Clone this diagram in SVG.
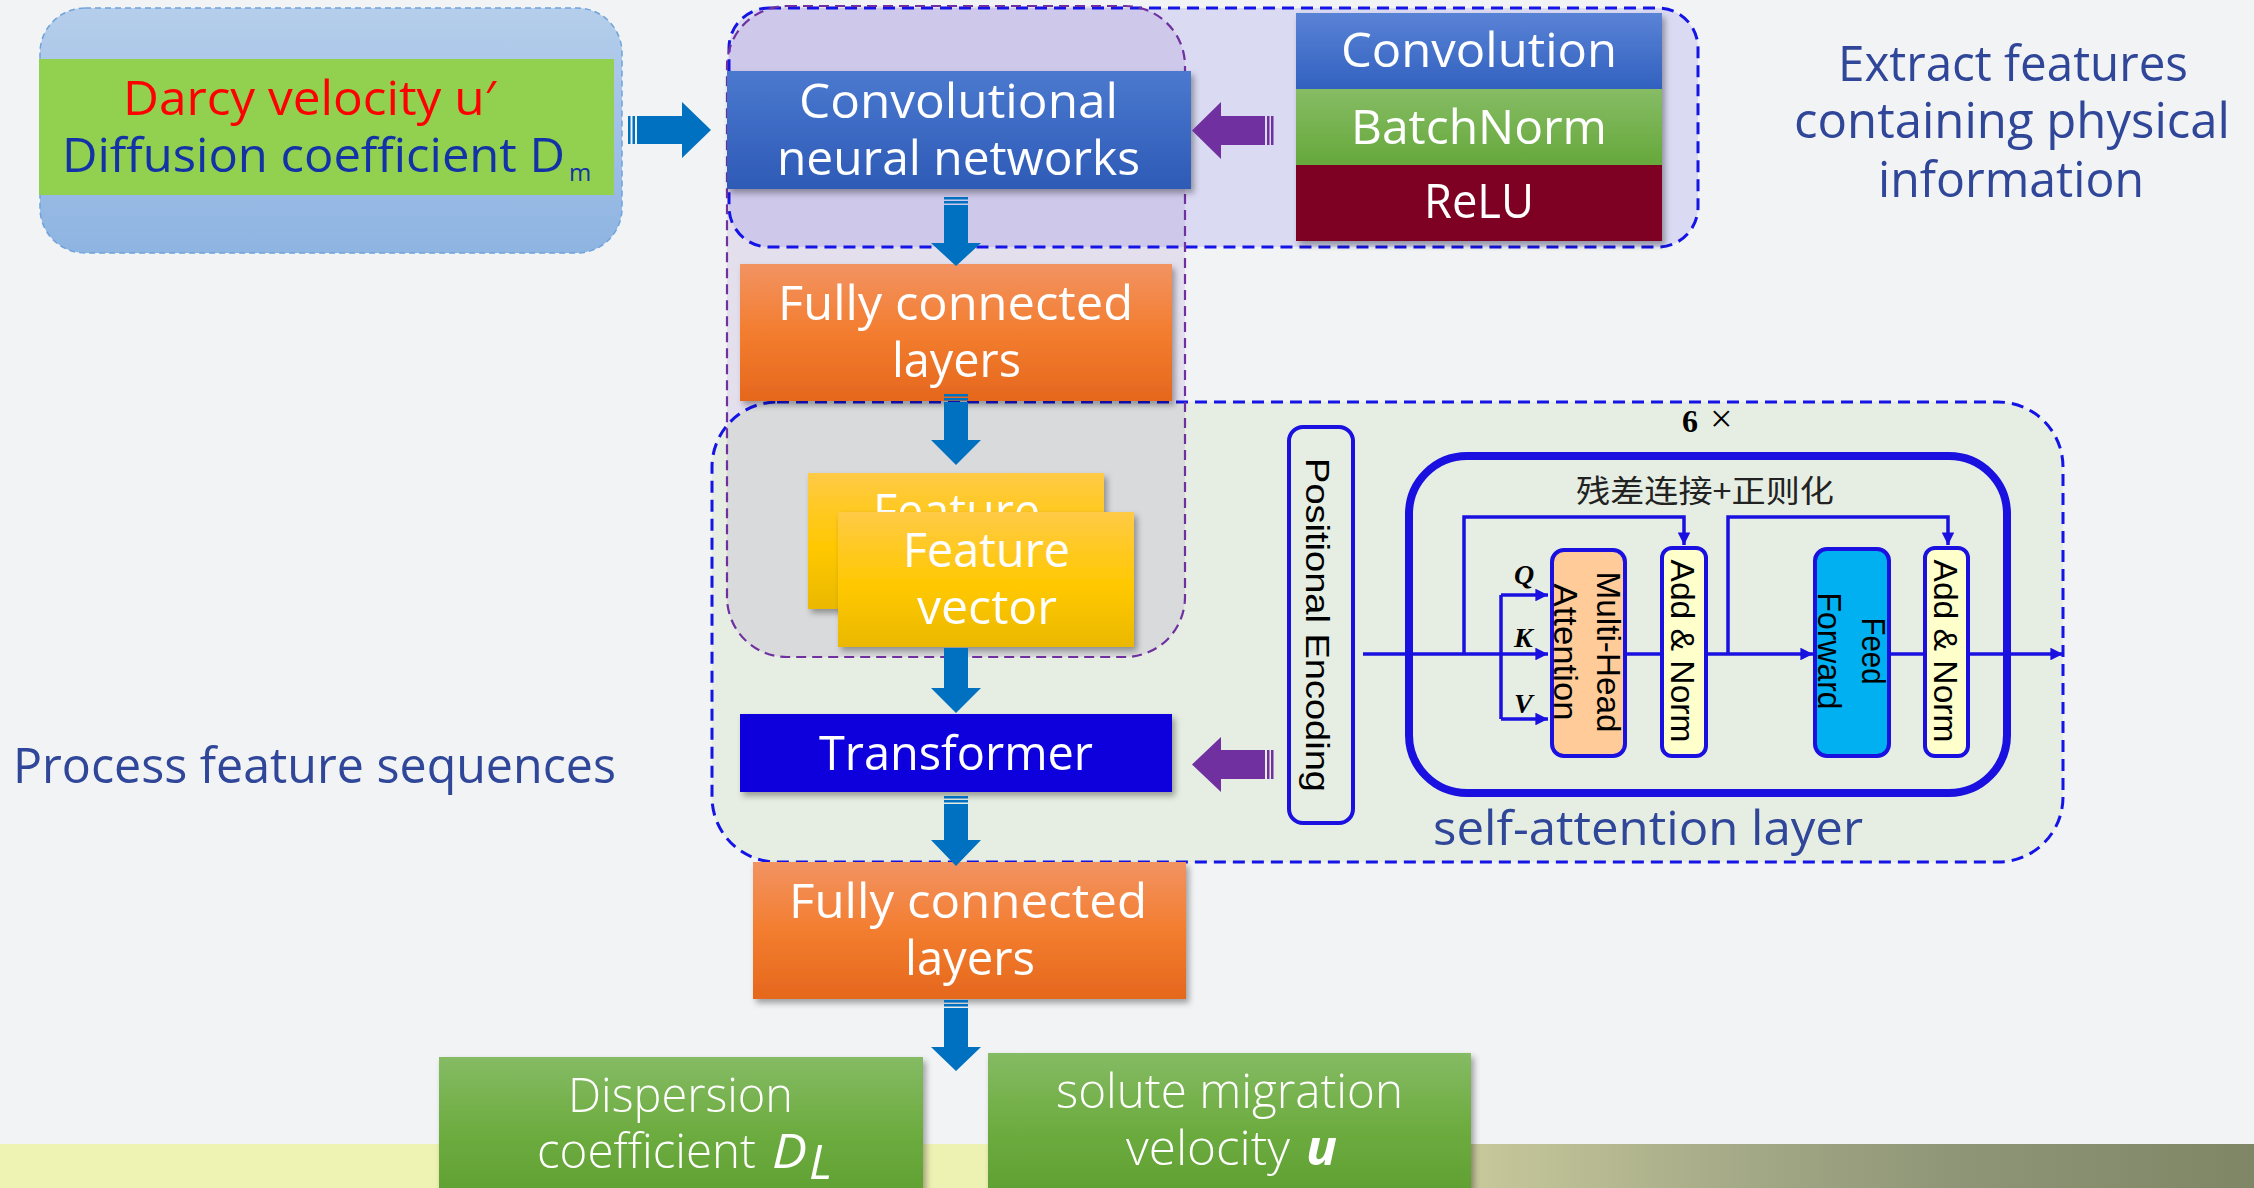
<svg xmlns="http://www.w3.org/2000/svg" width="2254" height="1188" viewBox="0 0 2254 1188">
  <defs>
    <linearGradient id="band" x1="0" y1="0" x2="2254" y2="0" gradientUnits="userSpaceOnUse">
      <stop offset="0" stop-color="#EEF2B3"/>
      <stop offset="0.577" stop-color="#EDF1B2"/>
      <stop offset="0.657" stop-color="#C6C79A"/>
      <stop offset="0.776" stop-color="#A3A886"/>
      <stop offset="0.865" stop-color="#8F9677"/>
      <stop offset="1" stop-color="#7F8666"/>
    </linearGradient>
    <linearGradient id="inBox" x1="0" y1="0" x2="0" y2="1">
      <stop offset="0" stop-color="#B5CEEB"/>
      <stop offset="1" stop-color="#8EB4E2"/>
    </linearGradient>
    <linearGradient id="gCnn" x1="0" y1="0" x2="0" y2="1">
      <stop offset="0" stop-color="#4B79CF"/>
      <stop offset="1" stop-color="#2D5AB6"/>
    </linearGradient>
    <linearGradient id="gConv" x1="0" y1="0" x2="0" y2="1">
      <stop offset="0" stop-color="#5A83D6"/>
      <stop offset="1" stop-color="#3161BF"/>
    </linearGradient>
    <linearGradient id="gBn" x1="0" y1="0" x2="0" y2="1">
      <stop offset="0" stop-color="#86BC65"/>
      <stop offset="1" stop-color="#66A83B"/>
    </linearGradient>
    <linearGradient id="gFc" x1="0" y1="0" x2="0" y2="1">
      <stop offset="0" stop-color="#F29362"/>
      <stop offset="0.5" stop-color="#F37D2F"/>
      <stop offset="1" stop-color="#E5671D"/>
    </linearGradient>
    <linearGradient id="gFeat" x1="0" y1="0" x2="0" y2="1">
      <stop offset="0" stop-color="#FFCA45"/>
      <stop offset="0.55" stop-color="#FFC800"/>
      <stop offset="1" stop-color="#EAB800"/>
    </linearGradient>
    <linearGradient id="gOut" x1="0" y1="0" x2="0" y2="1">
      <stop offset="0" stop-color="#85BB64"/>
      <stop offset="0.5" stop-color="#6DAC40"/>
      <stop offset="1" stop-color="#5E9E30"/>
    </linearGradient>
    <filter id="shadow" x="-5%" y="-10%" width="115%" height="140%">
      <feDropShadow dx="3" dy="4" stdDeviation="3" flood-color="#000" flood-opacity="0.35"/>
    </filter>
    <marker id="tip" viewBox="0 0 10 10" refX="10" refY="5" markerWidth="4" markerHeight="3.6" orient="auto" markerUnits="strokeWidth">
      <path d="M0,0 L10,5 L0,10 z" fill="#1A10E0"/>
    </marker>
  </defs>
  <style>
    .sans { font-family: "Open Sans", "Noto Sans", "Liberation Sans", sans-serif; }
    .lbl { fill: #2F4699; font-size: 50px; }
    .wt { fill: #FFFFFF; font-size: 48px; }
    .light { font-weight: 300; }
    .rot { font-family: "Liberation Sans", Arial, sans-serif; fill: #000; font-size: 33px; text-anchor: middle; }
    .dashBlue { fill: none; stroke: #1414E6; stroke-width: 3; stroke-dasharray: 12 7; }
    .line { fill: none; stroke: #1A10E0; stroke-width: 3.5; }
    .blk { stroke: #1A10E0; stroke-width: 4; }
    .barrow { fill: #0070C0; }
    .parrow { fill: #7030A0; }
    .serif { font-family: "Liberation Serif", "Times New Roman", serif; }
  </style>

  <!-- page background and footer band -->
  <rect x="0" y="0" width="2254" height="1188" fill="#F2F3F5"/>
  <rect x="0" y="1144" width="2254" height="44" fill="url(#band)"/>

  <!-- grouping regions -->
  <g id="regions">
    <rect id="cnn-region" x="729" y="8" width="969" height="239" rx="40" fill="#DADAF3"/>
    <rect id="transformer-region" x="712" y="402" width="1351" height="460" rx="65" fill="#E6EEE3"/>
    <rect id="feature-region" x="727" y="6" width="458" height="651" rx="60" fill="#7030A0" fill-opacity="0.1"/>
    <rect x="729" y="8" width="969" height="239" rx="40" class="dashBlue"/>
    <rect x="712" y="402" width="1351" height="460" rx="65" class="dashBlue"/>
    <rect x="727" y="6" width="458" height="651" rx="60" fill="none" stroke="#7030A0" stroke-width="2.2" stroke-dasharray="10 6"/>
  </g>

  <!-- input parameters -->
  <g id="input">
    <rect x="40" y="8" width="582" height="245" rx="45" fill="url(#inBox)" stroke="#6FA3DA" stroke-width="1.5" stroke-dasharray="6 4"/>
    <rect x="39" y="59" width="575" height="136" fill="#92D050"/>
    <text class="sans" x="123" y="115" font-size="48" fill="#FF0000" textLength="373" lengthAdjust="spacingAndGlyphs">Darcy velocity u′</text>
    <text class="sans" x="62" y="172" font-size="48" fill="#1232A6" textLength="503" lengthAdjust="spacingAndGlyphs">Diffusion coefficient D</text>
    <text class="sans" x="569" y="181" font-size="24" fill="#1232A6">m</text>
  </g>

  <!-- CNN feature extractor -->
  <g id="cnn" filter="url(#shadow)">
    <rect x="727" y="71" width="464" height="118" fill="url(#gCnn)"/>
    <text class="sans wt" x="799" y="118" textLength="319" lengthAdjust="spacingAndGlyphs">Convolutional</text>
    <text class="sans wt" x="777" y="175" textLength="363" lengthAdjust="spacingAndGlyphs">neural networks</text>
  </g>

  <g id="conv-stack" filter="url(#shadow)">
    <rect x="1296" y="13" width="366" height="76" fill="url(#gConv)"/>
    <rect x="1296" y="89" width="366" height="76" fill="url(#gBn)"/>
    <rect x="1296" y="165" width="366" height="76" fill="#7E0021"/>
    <text class="sans wt" x="1341" y="67" textLength="276" lengthAdjust="spacingAndGlyphs">Convolution</text>
    <text class="sans wt" x="1351" y="144" textLength="256" lengthAdjust="spacingAndGlyphs">BatchNorm</text>
    <text class="sans wt" x="1424" y="218" textLength="110" lengthAdjust="spacingAndGlyphs">ReLU</text>
  </g>

  <!-- fully connected layers (first) -->
  <g id="fc1" filter="url(#shadow)">
    <rect x="740" y="264" width="432" height="137" fill="url(#gFc)"/>
    <text class="sans wt" x="778" y="320" textLength="355" lengthAdjust="spacingAndGlyphs">Fully connected</text>
    <text class="sans wt" x="892" y="377" textLength="129" lengthAdjust="spacingAndGlyphs">layers</text>
  </g>

  <!-- stacked feature vectors -->
  <g id="feature-vector">
    <g filter="url(#shadow)">
      <rect x="808" y="473" width="296" height="136" fill="url(#gFeat)"/>
      <text class="sans wt" x="873" y="528" font-size="50" textLength="167" lengthAdjust="spacingAndGlyphs">Feature</text>
    </g>
    <g filter="url(#shadow)">
      <rect x="838" y="512" width="296" height="135" fill="url(#gFeat)"/>
    </g>
    <text class="sans wt" x="903" y="567" font-size="50" textLength="167" lengthAdjust="spacingAndGlyphs">Feature</text>
    <text class="sans wt" x="917" y="624" font-size="50" textLength="140" lengthAdjust="spacingAndGlyphs">vector</text>
  </g>

  <!-- transformer -->
  <g id="transformer" filter="url(#shadow)">
    <rect x="740" y="714" width="432" height="78" fill="#1005DC"/>
    <text class="sans wt" x="819" y="770" font-size="50" textLength="274" lengthAdjust="spacingAndGlyphs">Transformer</text>
  </g>

  <!-- fully connected layers (second) -->
  <g id="fc2" filter="url(#shadow)">
    <rect x="753" y="862" width="433" height="137" fill="url(#gFc)"/>
    <text class="sans wt" x="789" y="918" textLength="358" lengthAdjust="spacingAndGlyphs">Fully connected</text>
    <text class="sans wt" x="905" y="975" textLength="130" lengthAdjust="spacingAndGlyphs">layers</text>
  </g>

  <!-- outputs -->
  <g id="out-dispersion" filter="url(#shadow)">
    <rect x="439" y="1057" width="484" height="150" fill="url(#gOut)"/>
    <text class="sans wt light" x="568" y="1112" textLength="225" lengthAdjust="spacingAndGlyphs">Dispersion</text>
    <text class="sans wt light" x="537" y="1168" textLength="219" lengthAdjust="spacingAndGlyphs">coefficient</text>
    <text class="sans wt" x="772" y="1168" font-style="italic" textLength="35" lengthAdjust="spacingAndGlyphs">D</text>
    <text class="sans wt" x="809" y="1179" font-size="26" font-style="italic">L</text>
  </g>
  <g id="out-velocity" filter="url(#shadow)">
    <rect x="988" y="1053" width="483" height="150" fill="url(#gOut)"/>
    <text class="sans wt light" x="1056" y="1108" textLength="347" lengthAdjust="spacingAndGlyphs">solute migration</text>
    <text class="sans wt light" x="1126" y="1165" textLength="164" lengthAdjust="spacingAndGlyphs">velocity</text>
    <text class="sans wt" x="1306" y="1165" font-style="italic" font-weight="bold" textLength="31" lengthAdjust="spacingAndGlyphs">u</text>
  </g>

  <!-- positional encoding -->
  <g id="pos-enc">
    <rect x="1289" y="427" width="64" height="396" rx="14" fill="none" class="blk" stroke-width="8"/>
    <text class="rot" transform="translate(1306,625) rotate(90)" font-size="38" textLength="334" lengthAdjust="spacingAndGlyphs">Positional Encoding</text>
  </g>

  <!-- encoder block repeated 6 times -->
  <g id="encoder-block">
    <rect x="1409" y="456" width="598" height="337" rx="58" fill="none" stroke="#1A10E0" stroke-width="8"/>
    <text x="1682" y="432" class="serif" font-weight="bold" font-size="32" fill="#000">6</text>
    <text x="1710" y="432" class="serif" font-size="40" fill="#000">×</text>
    <text x="1576" y="502" font-family="'Noto Sans CJK SC', 'Noto Sans CJK JP', sans-serif" font-size="31" fill="#222" textLength="258" lengthAdjust="spacingAndGlyphs">残差连接+正则化</text>
  </g>

  <g id="multi-head-attention">
    <rect x="1552" y="550" width="73" height="206" rx="12" fill="#FFCC99" class="blk"/>
    <text class="rot" transform="translate(1597,652) rotate(90)" textLength="161" lengthAdjust="spacingAndGlyphs">Multi-Head</text>
    <text class="rot" transform="translate(1554,652) rotate(90)" textLength="137" lengthAdjust="spacingAndGlyphs">Attention</text>
  </g>
  <g id="add-norm-1">
    <rect x="1662" y="548" width="44" height="208" rx="10" fill="#FFFFCC" class="blk"/>
    <text class="rot" transform="translate(1671,651) rotate(90)" textLength="183" lengthAdjust="spacingAndGlyphs">Add &amp; Norm</text>
  </g>
  <g id="feed-forward">
    <rect x="1815" y="549" width="74" height="207" rx="12" fill="#00B0F0" class="blk"/>
    <text class="rot" transform="translate(1862,651) rotate(90)" textLength="67" lengthAdjust="spacingAndGlyphs">Feed</text>
    <text class="rot" transform="translate(1818,651) rotate(90)" textLength="117" lengthAdjust="spacingAndGlyphs">Forward</text>
  </g>
  <g id="add-norm-2">
    <rect x="1925" y="548" width="43" height="208" rx="10" fill="#FFFFCC" class="blk"/>
    <text class="rot" transform="translate(1934,651) rotate(90)" textLength="183" lengthAdjust="spacingAndGlyphs">Add &amp; Norm</text>
  </g>

  <!-- connectors -->
  <g id="connectors">
    <!-- block arrows along the main pipeline -->
    <g class="barrow">
      <rect x="628" y="116" width="2.5" height="28"/>
      <rect x="632.5" y="116" width="2.5" height="28"/>
      <path d="M637,116 H682 V102 L711,130 L682,158 V144 H637 Z"/>

      <rect x="944" y="197" width="24" height="2.5"/>
      <rect x="944" y="201" width="24" height="2.5"/>
      <path d="M944,205 H968 V243 H981 L956,266 L931,243 H944 Z"/>

      <rect x="944" y="394" width="24" height="2.5"/>
      <rect x="944" y="398" width="24" height="2.5"/>
      <path d="M944,402 H968 V440 H981 L956,465 L931,440 H944 Z"/>

      <path d="M944,648 H968 V688 H981 L956,713 L931,688 H944 Z"/>

      <rect x="944" y="796" width="24" height="2.5"/>
      <rect x="944" y="800" width="24" height="2.5"/>
      <path d="M944,804 H968 V840 H981 L956,866 L931,840 H944 Z"/>

      <rect x="944" y="1000" width="24" height="2.5"/>
      <rect x="944" y="1004" width="24" height="2.5"/>
      <path d="M944,1008 H968 V1047 H981 L956,1071 L931,1047 H944 Z"/>
    </g>
    <g class="parrow">
      <path d="M1192,130.5 L1221,102 V116 H1265 V145 H1221 V159 Z"/>
      <rect x="1267" y="116" width="2.5" height="29"/>
      <rect x="1271" y="116" width="2.5" height="29"/>
      <path d="M1192,764.5 L1221,737 V750 H1265 V779 H1221 V792 Z"/>
      <rect x="1267" y="750" width="2.5" height="29"/>
      <rect x="1271" y="750" width="2.5" height="29"/>
    </g>

    <!-- encoder data flow -->
    <path class="line" d="M1363,654 H1548" marker-end="url(#tip)"/>
    <path class="line" d="M1501,595 V719"/>
    <path class="line" d="M1501,595 H1548" marker-end="url(#tip)"/>
    <path class="line" d="M1501,719 H1548" marker-end="url(#tip)"/>
    <path class="line" d="M1627,654 H1662"/>
    <path class="line" d="M1706,654 H1813" marker-end="url(#tip)"/>
    <path class="line" d="M1889,654 H1925"/>
    <path class="line" d="M1968,654 H2063" marker-end="url(#tip)"/>
    <path class="line" d="M1464,654 V517 H1684 V545" marker-end="url(#tip)"/>
    <path class="line" d="M1728,654 V517 H1948 V545" marker-end="url(#tip)"/>
  </g>

  <!-- Q / K / V labels -->
  <g id="qkv" class="serif" font-weight="bold" font-style="italic" font-size="28" fill="#000">
    <text x="1514" y="584">Q</text>
    <text x="1514" y="647">K</text>
    <text x="1514" y="713">V</text>
  </g>

  <!-- side captions -->
  <g id="captions" class="sans lbl">
    <text x="1838" y="81" textLength="350" lengthAdjust="spacingAndGlyphs">Extract features</text>
    <text x="1794" y="138" textLength="436" lengthAdjust="spacingAndGlyphs">containing physical</text>
    <text x="1878" y="197" textLength="266" lengthAdjust="spacingAndGlyphs">information</text>
    <text x="13" y="783" textLength="603" lengthAdjust="spacingAndGlyphs">Process feature sequences</text>
    <text x="1433" y="845" font-size="48" textLength="430" lengthAdjust="spacingAndGlyphs">self-attention layer</text>
  </g>
</svg>
